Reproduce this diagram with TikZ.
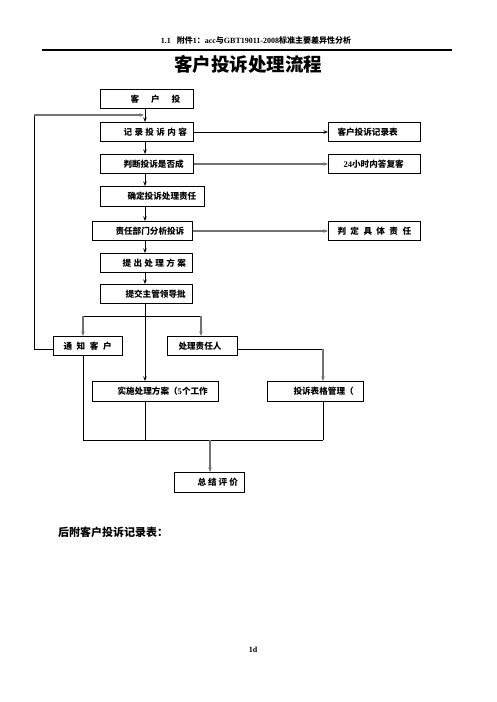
\documentclass[tikz,border=0pt]{standalone}
\usepackage{fontspec}
\setmainfont{Liberation Serif}
\newfontfamily\cjk{Noto Sans CJK SC}
\usetikzlibrary{arrows.meta}
\newcommand\sg[1]{\hspace{#1pt}}
\begin{document}
\begin{tikzpicture}[x=1pt,y=-1pt,
  box/.style={draw, line width=1pt, inner sep=0pt, minimum height=19pt, align=left,
    anchor=north west, font=\cjk\bfseries\fontsize{8.6}{10}\selectfont},
  bl/.style={line width=0.9pt, black},
  gl/.style={line width=1.3pt, black!55},
  ah/.style={-{Stealth[length=4.5pt,width=3.5pt]}},
]
\useasboundingbox (0,0) rectangle (496,702);
% header
\node[font=\bfseries\fontsize{8}{9}\selectfont, inner sep=0pt] (hd) at (256,40)
  {1.1\hspace{6pt}{\cjk 附件}1{\cjk ：}acc{\cjk 与}GBT19011-2008{\cjk 标准主要差异性分析}};
\coordinate (hl) at (42,50);
\coordinate (hr) at (452,50);
\draw[line width=1.1pt] (hl) -- (hr);
\node[font=\cjk\bfseries\fontsize{18.5}{20}\selectfont, inner sep=0pt] (title) at (248,64) {客户投诉处理流程};

% boxes
\node[box, text width=93pt] (b0) at (100,89) {\hspace*{30pt}客\sg{12}户\sg{12}投};
\node[box, text width=93pt] (b1) at (100,122) {\hspace*{23pt}记\sg{2.4}录\sg{2.4}投\sg{2.4}诉\sg{2.4}内\sg{2.4}容};
\node[box, text width=92pt] (r1) at (328,122) {\hspace*{9pt}客户投诉记录表};
\node[box, text width=93pt] (b2) at (100,154) {\hspace*{23pt}判断投诉是否成};
\node[box, text width=92pt] (r2) at (328,154) {\hspace*{15pt}{\rmfamily\bfseries 24}小时内答复客};
\node[box, text width=104pt, minimum height=20pt] (b3) at (100,186) {\hspace*{27pt}确定投诉处理责任};
\node[box, text width=100pt] (b4) at (92,221) {\hspace*{23pt}责任部门分析投诉};
\node[box, text width=92pt] (r4) at (328,221) {\hspace*{9pt}判\sg{4.4}定\sg{4.4}具\sg{4.4}体\sg{4.4}责\sg{4.4}任};
\node[box, text width=92pt] (b5) at (100,253) {\hspace*{22pt}提\sg{2.4}出\sg{2.4}处\sg{2.4}理\sg{2.4}方\sg{2.4}案};
\node[box, text width=92pt] (b6) at (100,284) {\hspace*{25pt}提交主管领导批};
\node[box, text width=69pt] (n) at (53,336) {\hspace*{10pt}通\sg{4.6}知\sg{4.6}客\sg{4.6}户};
\node[box, text width=70pt] (p) at (167,336) {\hspace*{11pt}处理责任人};
\node[box, text width=126pt, minimum height=20pt] (s) at (92,381) {\hspace*{25pt}实施处理方案（{\rmfamily\bfseries 5}个工作};
\node[box, text width=96pt, minimum height=20pt] (t) at (267,381) {\hspace*{26pt}投诉表格管理（};
\node[box, text width=70pt, minimum height=20pt] (z) at (174,472) {\hspace*{23pt}总\sg{2}结\sg{2}评\sg{2}价};

% texts below
\node[font=\cjk\bfseries\fontsize{11}{12}\selectfont, inner sep=0pt, anchor=west] (after) at (58,532) {后附客户投诉记录表：};
\node[font=\bfseries\fontsize{8}{9}\selectfont, inner sep=0pt] (pg) at (253,650) {1d};

% helper coordinates
\coordinate (X) at (145,0);
\coordinate (XL) at (83,0);
\coordinate (XR) at (201,0);
\coordinate (XT) at (323,0);
\coordinate (XZ) at (210,0);
\coordinate (fbL) at (34,349);
\coordinate (fbT) at (34,115);
\coordinate (fbJ) at (145,115);
\coordinate (br) at (0,316);
\coordinate (bot) at (0,440);
\coordinate (py) at (0,349);

% main spine
\draw[bl,ah] (b0.south -| X) -- (b1.north -| X);
\draw[bl,ah] (b1.south -| X) -- (b2.north -| X);
\draw[bl,ah] (b2.south -| X) -- (b3.north -| X);
\draw[bl,ah] (b3.south -| X) -- (b4.north -| X);
\draw[bl,ah] (b4.south -| X) -- (b5.north -| X);
\draw[bl,ah] (b5.south -| X) -- (b6.north -| X);
\draw[bl,ah] (b6.south -| X) -- (s.north -| X);

% side arrows
\draw[bl,ah] (b1.east) -- (r1.west);
\draw[gl,ah] (b2.east) -- (r2.west);
\draw[gl,ah] (b4.east) -- (r4.west);

% feedback loop
\draw[bl] (n.west |- fbL) -- (fbL) -- (fbT);
\draw[gl,ah] (fbT) -- ([xshift=-1pt]fbJ);

% branch
\draw[bl] (XL |- br) -- (XR |- br);
\draw[gl,ah] (XL |- br) -- (n.north -| XL);
\draw[gl,ah] (XR |- br) -- (p.north -| XR);

% responsible person to form management
\draw[bl] (p.east |- py) -- (XT |- py);
\draw[gl,ah] (XT |- py) -- (t.north -| XT);

% merge to summary
\draw[bl] (n.south -| XL) -- (XL |- bot);
\draw[bl] (s.south -| X) -- (X |- bot);
\draw[bl] (t.south -| XT) -- (XT |- bot);
\draw[bl] (XL |- bot) -- (XT |- bot);
\draw[gl,ah] (XZ |- bot) -- (z.north -| XZ);
\end{tikzpicture}
\end{document}
